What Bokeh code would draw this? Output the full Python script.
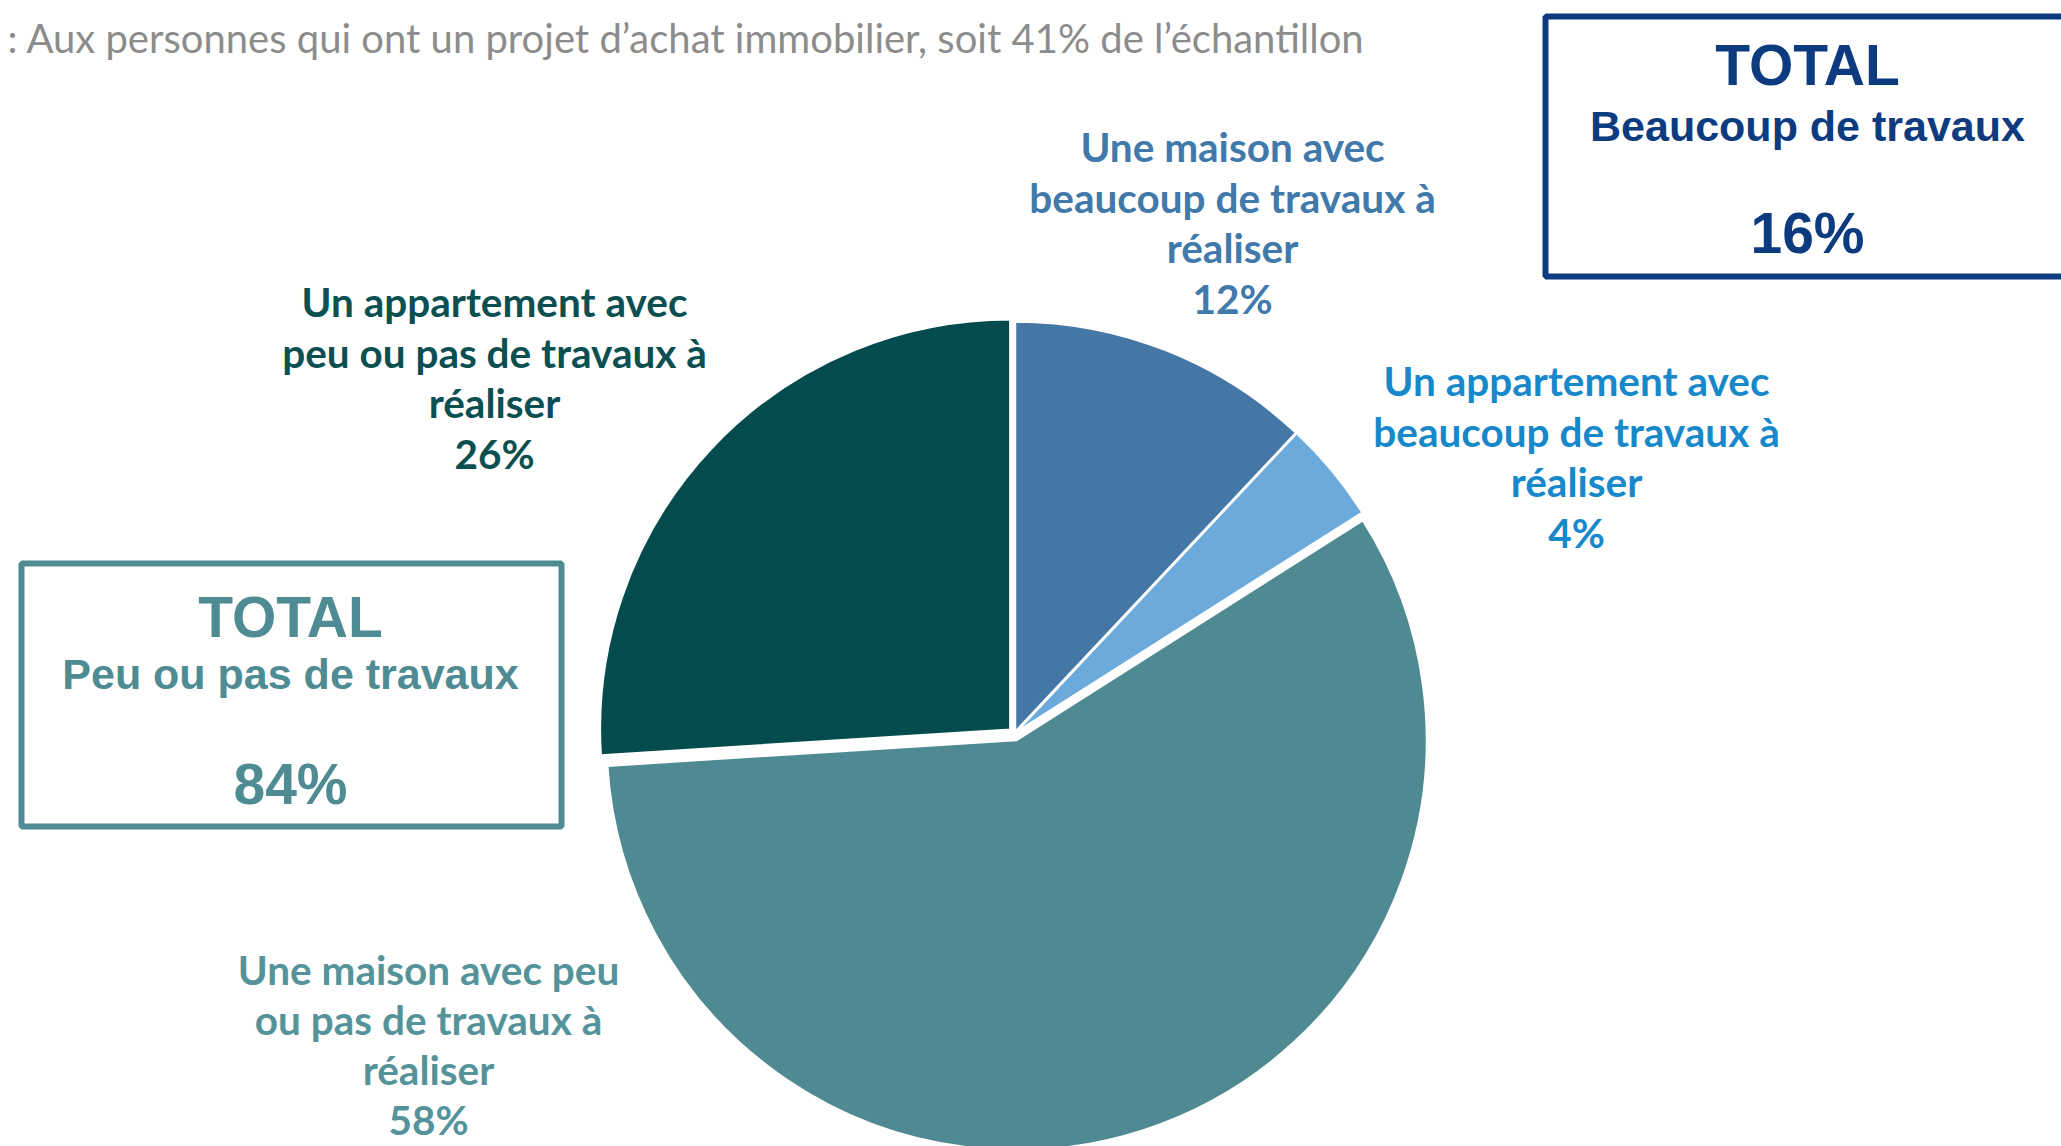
import math
from bokeh.plotting import figure
from bokeh.models import Range1d, ColumnDataSource
from bokeh.embed import file_html
from bokeh.resources import INLINE
from bokeh.core.properties import value

# ---------------- data ----------------
subtitle = ": Aux personnes qui ont un projet d\u2019achat immobilier, soit 41% de l\u2019\u00e9chantillon"
categories = [
    "Une maison avec\nbeaucoup de travaux \u00e0\nr\u00e9aliser",
    "Un appartement avec\nbeaucoup de travaux \u00e0\nr\u00e9aliser",
    "Une maison avec peu\nou pas de travaux \u00e0\nr\u00e9aliser",
    "Un appartement avec\npeu ou pas de travaux \u00e0\nr\u00e9aliser",
]
values = [12, 4, 58, 26]
total_title = "TOTAL"
groups = ["Beaucoup de travaux", "Peu ou pas de travaux"]
group_members = [[0, 1], [2, 3]]

# ---------------- styles / layout ----------------
slice_colors = ["#4477A6", "#6BAADA", "#4F8A93", "#034B4D"]
label_colors = ["#4079AA", "#1789CB", "#55939B", "#0B4F51"]
explode = [2, 2, 7, 6]
label_pos = [(1232, 146), (1576, 380), (428, 969), (494, 301)]
line_gaps = [50.5, 50.5, 50, 50.5]
group_colors = ["#0C3B80", "#4E8B93"]
# box: left, right, top, bottom (screen px, line centres); text centre x, y of lines
box_geom = [(1545, 2090, 16, 276), (21, 561, 563, 826)]
box_text = [(1807, 64, 125, 232), (290, 616, 673, 783)]

W, H = 2061, 1146
p = figure(width=W, height=H, output_backend="svg", toolbar_location=None,
           x_range=Range1d(0, W), y_range=Range1d(-H, 0),
           min_border=0, outline_line_color=None)
p.axis.visible = False
p.grid.visible = False
p.background_fill_color = "white"
p.border_fill_color = "white"

def Y(sy):
    return -sy

# subtitle
p.text(x=[7], y=[Y(37)], text=[subtitle], text_font=value("Lato"), text_font_size="40px",
       text_color="#8C8C8C", text_baseline="middle", text_align="left")

# pie
cx, cy, r = 1014, 733, 410
total = sum(values)
xs, ys, sa, ea = [], [], [], []
cum = 0.0
for v, e in zip(values, explode):
    c0 = cum / total
    c1 = (cum + v) / total
    cum += v
    mid = math.pi / 2 - math.pi * (c0 + c1)
    xs.append(cx + e * math.cos(mid))
    ys.append(Y(cy) + e * math.sin(mid))
    sa.append(math.pi / 2 - 2 * math.pi * c1)
    ea.append(math.pi / 2 - 2 * math.pi * c0)
src = ColumnDataSource(dict(x=xs, y=ys, s=sa, e=ea, c=slice_colors))
p.wedge(x="x", y="y", radius=r, start_angle="s", end_angle="e", direction="anticlock",
        fill_color="c", line_color="white", line_width=2, source=src)

# labels
for cat, v, col, (lx, ly), gap in zip(categories, values, label_colors, label_pos, line_gaps):
    lines = cat.split("\n") + [f"{v}%"]
    p.text(x=[lx] * len(lines), y=[Y(ly + i * gap) for i in range(len(lines))],
           text=lines, text_font=value("Lato"), text_font_style="bold",
           text_font_size="40.5px", text_color=col, text_align="center", text_baseline="middle")

# total boxes
for g, mem, col, (bl, br, bt, bb), (tx, ty1, ty2, ty3) in zip(groups, group_members, group_colors, box_geom, box_text):
    p.quad(left=[bl], right=[br], top=[Y(bt)], bottom=[Y(bb)], fill_color=None,
           line_color=col, line_width=6)
    pct = sum(values[i] for i in mem)
    p.text(x=[tx], y=[Y(ty1)], text=[total_title], text_font=value("Liberation Sans"),
           text_font_style="bold", text_font_size="57px", text_color=col,
           text_align="center", text_baseline="middle")
    p.text(x=[tx], y=[Y(ty2)], text=[g], text_font=value("Liberation Sans"),
           text_font_style="bold", text_font_size="43px", text_color=col,
           text_align="center", text_baseline="middle")
    p.text(x=[tx], y=[Y(ty3)], text=[f"{pct}%"], text_font=value("Liberation Sans"),
           text_font_style="bold", text_font_size="57px", text_color=col,
           text_align="center", text_baseline="middle")

open("out.html", "w").write(file_html(p, INLINE))
